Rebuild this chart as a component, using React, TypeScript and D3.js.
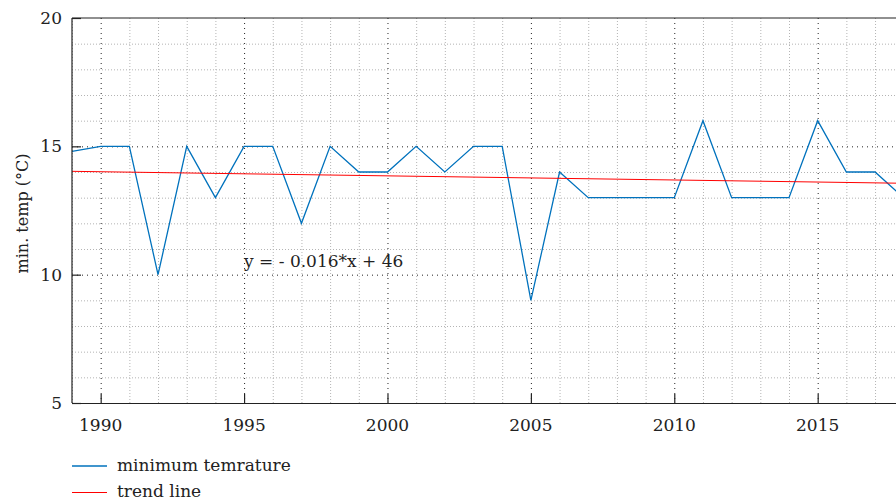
import React from "react";
import * as d3 from "d3";

const years = [1989, 1990, 1991, 1992, 1993, 1994, 1995, 1996, 1997, 1998, 1999, 2000, 2001, 2002, 2003, 2004, 2005, 2006, 2007, 2008, 2009, 2010, 2011, 2012, 2013, 2014, 2015, 2016, 2017, 2018];
const minTemp = [14.8, 15, 15, 10, 15, 13, 15, 15, 12, 15, 14, 14, 15, 14, 15, 15, 9, 14, 13, 13, 13, 13, 16, 13, 13, 13, 16, 14, 14, 13];
const xTicks = [1990, 1995, 2000, 2005, 2010, 2015];
const yTicks = [5, 10, 15, 20];
const seriesLabels = ["minimum temrature", "trend line"];
const yTitle = "min. temp (°C)";

const W = 896;
const H = 504;
const M = { left: 72, top: 18, bottom: 403 };
const FONT = "DejaVu Serif";
const BLUE = "#0072BD";
const RED = "#ff0000";
const INK = "#222";

// least-squares fit of the temperature series
function linearFit(xs: number[], ys: number[]) {
  const mx = d3.mean(xs) as number;
  const my = d3.mean(ys) as number;
  let sxy = 0;
  let sxx = 0;
  xs.forEach((x, i) => {
    sxy += (x - mx) * (ys[i] - my);
    sxx += (x - mx) * (x - mx);
  });
  const slope = sxy / sxx;
  return { slope, intercept: my - slope * mx };
}

export default function App() {
  const x = d3.scaleLinear().domain([1989, 2018]).range([M.left, M.left + 29 * 28.68]);
  const y = d3.scaleLinear().domain([5, 20]).range([M.bottom, M.top]);
  const [x0, x1] = x.range();

  const fit = linearFit(years, minTemp);
  const trendYears = [1989, 2018];

  const line = d3
    .line<number>()
    .x((_, i) => x(years[i]))
    .y((v) => y(v));
  const trend = d3
    .line<number>()
    .x((v) => x(v))
    .y((v) => y(fit.slope * v + fit.intercept));

  const minorX = d3.range(1989, 2019).filter((v) => v % 5 !== 0);
  const minorY = d3.range(5, 21).filter((v) => v % 5 !== 0);

  const sign = fit.intercept >= 0 ? "+" : "-";
  const eq = `y = - ${Math.abs(fit.slope).toFixed(3)}*x ${sign} ${Math.round(Math.abs(fit.intercept))}`;

  return (
    <div style={{ position: "fixed", left: 0, top: 0, width: W, height: H, overflow: "hidden", background: "#fff" }}>
      <svg width={W} height={H} style={{ display: "block" }} fontFamily={FONT}>
        <defs>
          <clipPath id="plotArea">
            <rect x={x0} y={M.top} width={x1 - x0} height={M.bottom - M.top} />
          </clipPath>
        </defs>

        {/* minor grid */}
        <g stroke="#b4b4b4" strokeWidth={1} strokeDasharray="1,2">
          {minorX.map((v) => (
            <line key={"mx" + v} x1={x(v) + 0.5} x2={x(v) + 0.5} y1={M.top} y2={M.bottom} />
          ))}
          {minorY.map((v) => (
            <line key={"my" + v} x1={x0} x2={x1} y1={y(v) + 0.5} y2={y(v) + 0.5} />
          ))}
        </g>

        {/* major grid */}
        <g stroke={INK} strokeWidth={1} strokeDasharray="1,4">
          {xTicks.map((v) => (
            <line key={"gx" + v} x1={x(v) + 0.5} x2={x(v) + 0.5} y1={M.top} y2={M.bottom} />
          ))}
          {yTicks.slice(1, -1).map((v) => (
            <line key={"gy" + v} x1={x0} x2={x1} y1={y(v) + 0.5} y2={y(v) + 0.5} />
          ))}
        </g>

        {/* data */}
        <g clipPath="url(#plotArea)" fill="none">
          <path d={line(minTemp) ?? ""} stroke={BLUE} strokeWidth={1.3} />
          <path d={trend(trendYears) ?? ""} stroke={RED} strokeWidth={1} />
        </g>

        <text x={x(1995)} y={y(10.3)} fontSize={17} fill={INK}>
          {eq}
        </text>

        {/* axes frame and ticks */}
        <g stroke={INK} strokeWidth={1.2} fill="none">
          <line x1={x0} x2={x0} y1={M.top} y2={M.bottom} />
          <line x1={x0} x2={x1} y1={M.bottom + 0.5} y2={M.bottom + 0.5} />
          <line x1={x0} x2={x1} y1={M.top} y2={M.top} />
          {xTicks.map((v) => (
            <line key={"tx" + v} x1={x(v) + 0.5} x2={x(v) + 0.5} y1={M.bottom} y2={M.bottom - 9} />
          ))}
          {yTicks.map((v) => (
            <line key={"ty" + v} x1={x0} x2={x0 + 9} y1={y(v) + 0.5} y2={y(v) + 0.5} />
          ))}
        </g>

        <g fontSize={17} fill={INK}>
          {xTicks.map((v) => (
            <text key={"lx" + v} x={x(v)} y={431} textAnchor="middle">
              {v}
            </text>
          ))}
          {yTicks.map((v) => (
            <text key={"ly" + v} x={62} y={y(v) + 6} textAnchor="end">
              {v}
            </text>
          ))}
          <text
            transform={`translate(28,${(M.top + M.bottom) / 2 + 3}) rotate(-90)`}
            textAnchor="middle"
            fontSize={16}
          >
            {yTitle}
          </text>
        </g>

        {/* legend */}
        <g fontSize={17} fill={INK}>
          <line x1={72} x2={107} y1={466} y2={466} stroke={BLUE} strokeWidth={1.3} />
          <text x={117} y={471}>{seriesLabels[0]}</text>
          <line x1={72} x2={107} y1={492.5} y2={492.5} stroke={RED} strokeWidth={1} />
          <text x={117} y={497}>{seriesLabels[1]}</text>
        </g>
      </svg>
    </div>
  );
}
